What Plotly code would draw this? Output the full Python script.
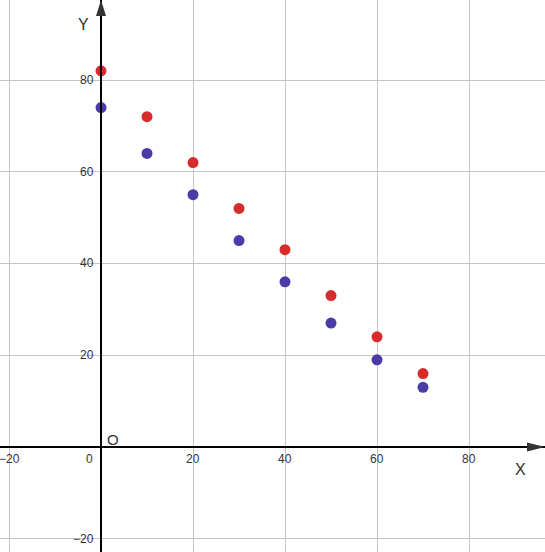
import plotly.graph_objects as go

x_vals = [0, 10, 20, 30, 40, 50, 60, 70]
red_vals = [82, 72, 62, 52, 43, 33, 24, 16]
blue_vals = [74, 64, 55, 45, 36, 27, 19, 13]
x_ticks = [-20, 0, 20, 40, 60, 80]
y_ticks = [-20, 20, 40, 60, 80]

X_RANGE = [-21.96, 96.52]
Y_RANGE = [-22.9, 97.44]
FONT = "Liberation Sans, Arial, sans-serif"
TXT = "#333333"

fig = go.Figure()
fig.add_trace(go.Scatter(x=x_vals, y=blue_vals, mode="markers",
                         marker=dict(size=11, color="#4a3ca6"), showlegend=False))
fig.add_trace(go.Scatter(x=x_vals, y=red_vals, mode="markers",
                         marker=dict(size=11, color="#d62c2c"), showlegend=False))

ann = []
for v in x_ticks:
    lab = str(v).replace("-", "\u2212")
    if v == 0:
        ann.append(dict(x=v, y=0, text=lab, showarrow=False, xanchor="right",
                        yanchor="middle", xshift=-6, yshift=-12,
                        font=dict(size=12, color=TXT, family=FONT)))
    else:
        ann.append(dict(x=v, y=0, text=lab, showarrow=False, xanchor="center",
                        yanchor="middle", yshift=-12,
                        font=dict(size=12, color=TXT, family=FONT)))
for v in y_ticks:
    lab = str(v).replace("-", "\u2212")
    ann.append(dict(x=0, y=v, text=lab, showarrow=False, xanchor="right",
                    yanchor="middle", xshift=-5,
                    font=dict(size=12, color=TXT, family=FONT)))
ann.append(dict(x=0, y=0, text="O", showarrow=False, xanchor="left", yanchor="middle",
                xshift=4, yshift=7, font=dict(size=15, color=TXT, family=FONT)))
ann.append(dict(x=X_RANGE[1], y=0, text="X", showarrow=False, xanchor="center",
                yanchor="middle", xshift=-25, yshift=-23,
                font=dict(size=16, color=TXT, family=FONT)))
ann.append(dict(x=0, y=Y_RANGE[1], text="Y", showarrow=False, xanchor="center",
                yanchor="middle", xshift=-18, yshift=-24,
                font=dict(size=16, color=TXT, family=FONT)))

shapes = [
    dict(type="line", xref="x", yref="y", x0=X_RANGE[0], x1=X_RANGE[1], y0=0, y1=0,
         line=dict(color="black", width=2), layer="above"),
    dict(type="line", xref="x", yref="y", x0=0, x1=0, y0=Y_RANGE[0], y1=Y_RANGE[1],
         line=dict(color="black", width=2), layer="above"),
    dict(type="path", xref="x", yref="y", xsizemode="pixel", ysizemode="pixel",
         xanchor=X_RANGE[1], yanchor=0, path="M 0 0 L -18 4.5 L -18 -4.5 Z",
         fillcolor="#333333", line=dict(width=0), layer="above"),
    dict(type="path", xref="x", yref="y", xsizemode="pixel", ysizemode="pixel",
         xanchor=0, yanchor=Y_RANGE[1], path="M 0 0 L -5 -16 L 5 -16 Z",
         fillcolor="#333333", line=dict(width=0), layer="above"),
]

fig.update_layout(
    width=545, height=552, margin=dict(l=0, r=0, t=0, b=0),
    plot_bgcolor="white", paper_bgcolor="white",
    xaxis=dict(range=X_RANGE, dtick=20, tick0=0, showgrid=True, gridcolor="#c4c4c4",
               gridwidth=1, zeroline=False, showticklabels=False, showline=False,
               fixedrange=True),
    yaxis=dict(range=Y_RANGE, dtick=20, tick0=0, showgrid=True, gridcolor="#c4c4c4",
               gridwidth=1, zeroline=False, showticklabels=False, showline=False,
               fixedrange=True),
    annotations=ann, shapes=shapes, showlegend=False,
)
fig.write_html("out.html", config={"displayModeBar": False},
               post_script="document.body.style.margin='0';document.body.style.overflow='hidden';")
